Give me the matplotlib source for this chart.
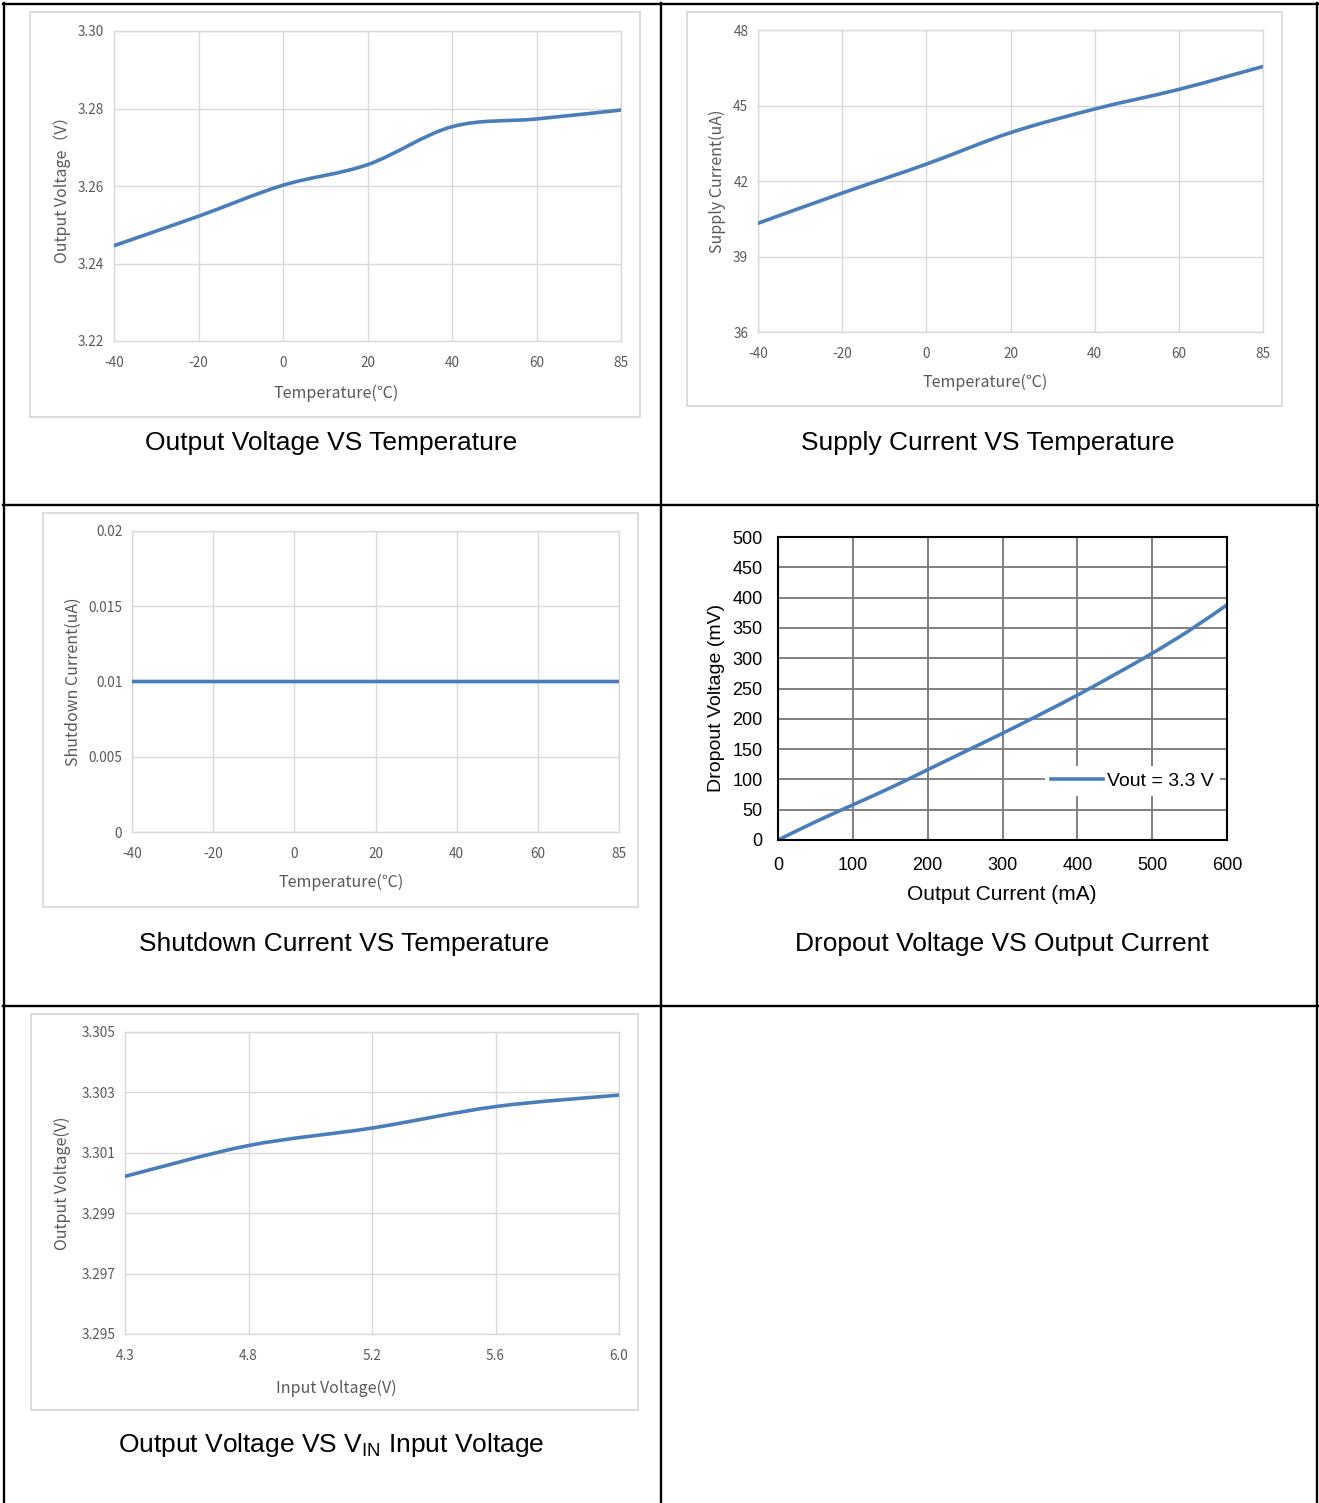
import numpy as np
import matplotlib
matplotlib.use("Agg")
import matplotlib.pyplot as plt
from matplotlib.path import Path
from matplotlib.patches import PathPatch, Rectangle
from matplotlib.lines import Line2D

plt.rcParams['font.family'] = ['Liberation Sans', 'Noto Sans CJK SC', 'DejaVu Sans']
plt.rcParams['mathtext.fontset'] = 'custom'
plt.rcParams['mathtext.rm'] = 'Liberation Sans'

W, H = 1319, 1503

# data
temp_labels = ['-40', '-20', '0', '20', '40', '60', '85']
vout_temp = [3.2446, 3.2522, 3.2602, 3.2655, 3.2753, 3.2773, 3.2796]
isupply_temp = [40.32, 41.52, 42.67, 43.92, 44.86, 45.64, 46.55]
ishdn_temp = [0.01, 0.01, 0.01, 0.01, 0.01, 0.01, 0.01]

iout_ma = [0, 50, 100, 150, 200, 250, 300, 350, 400, 450, 500, 550, 600]
vdrop_mv = [0, 30, 58, 86, 116, 146, 176, 207, 239, 273, 308, 346, 388]

vin_labels = ['4.3', '4.8', '5.2', '5.6', '6.0']
vout_vin = [3.30022, 3.30124, 3.30182, 3.30253, 3.30291]

LINE = '#4a7ebb'
GRID = '#d9d9d9'
TXT = '#595959'
EXCEL_FONT = ['Noto Sans CJK SC', 'DejaVu Sans']

fig = plt.figure(figsize=(W / 100, H / 100), dpi=100)


def px_axes(x0, y0, x1, y1):
    return fig.add_axes([x0 / W, 1 - y1 / H, (x1 - x0) / W, (y1 - y0) / H])


def smooth_path(xs, ys):
    # excel style smoothed line (catmull-rom -> bezier)
    pts = np.column_stack([xs, ys]).astype(float)
    n = len(pts)
    verts = [pts[0]]
    codes = [Path.MOVETO]
    for i in range(n - 1):
        p0 = pts[max(i - 1, 0)]
        p1 = pts[i]
        p2 = pts[i + 1]
        p3 = pts[min(i + 2, n - 1)]
        verts += [p1 + (p2 - p0) / 6, p2 - (p3 - p1) / 6, p2]
        codes += [Path.CURVE4] * 3
    return Path(verts, codes)


def place_labels(ax, box, xl, yl):
    x0, y0, x1, y1 = box
    ax.xaxis.set_label_coords((xl[0] - x0) / (x1 - x0), (y1 - xl[1]) / (y1 - y0))
    ax.xaxis.label.set_va('center')
    ax.yaxis.set_label_coords((yl[0] - x0) / (x1 - x0), (y1 - yl[1]) / (y1 - y0))
    ax.yaxis.label.set_va('center')


def excel_chart(box, frame, cats, vals, ylim, yticks, ylabels, xlabel, ylabel, xl, yl):
    fx0, fy0, fx1, fy1 = frame
    fig.add_artist(Rectangle((fx0 / W, 1 - fy1 / H), (fx1 - fx0) / W, (fy1 - fy0) / H,
                             transform=fig.transFigure, fill=False, ec=GRID, lw=1.3))
    ax = px_axes(*box)
    xs = np.arange(len(cats))
    ax.add_patch(PathPatch(smooth_path(xs, vals), fill=False, ec=LINE, lw=2.6,
                           capstyle='round', zorder=3))
    ax.set_xlim(0, len(cats) - 1)
    ax.set_ylim(*ylim)
    ax.set_xticks(xs)
    ax.set_xticklabels(cats)
    ax.set_yticks(yticks)
    ax.set_yticklabels(ylabels)
    ax.grid(True, color=GRID, lw=1)
    ax.set_axisbelow(True)
    for s in ax.spines.values():
        s.set_color(GRID)
        s.set_linewidth(1)
    ax.tick_params(length=0, colors=TXT, labelsize=9.8)
    ax.tick_params(axis='x', pad=10.5)
    ax.tick_params(axis='y', pad=7)
    for t in ax.get_xticklabels() + ax.get_yticklabels():
        t.set_family(EXCEL_FONT)
    ax.set_xlabel(xlabel, fontsize=11.5, color=TXT, family=EXCEL_FONT)
    ax.set_ylabel(ylabel, fontsize=11.5, color=TXT, family=EXCEL_FONT)
    place_labels(ax, box, xl, yl)
    return ax


# table borders
def hline(y, x0, x1):
    fig.add_artist(Line2D([x0 / W, x1 / W], [1 - y / H, 1 - y / H],
                          transform=fig.transFigure, color='black', lw=1.7))


def vline(x, y0, y1):
    fig.add_artist(Line2D([x / W, x / W], [1 - y0 / H, 1 - y1 / H],
                          transform=fig.transFigure, color='black', lw=1.7))


hline(4, 3, 1318)
hline(505, 3, 1318)
hline(1006, 3, 1318)
vline(4, 3, 1503)
vline(661, 3, 1503)
vline(1317, 3, 1503)

# Output voltage vs temperature
excel_chart((114, 31, 621, 341), (30, 12, 640, 417), temp_labels, vout_temp,
            (3.22, 3.30), [3.22, 3.24, 3.26, 3.28, 3.30],
            ['3.22', '3.24', '3.26', '3.28', '3.30'],
            'Temperature(℃)', 'Output Voltage（V）', (336, 393), (62, 186))

# Supply current vs temperature
excel_chart((758, 30, 1263, 332), (687, 12, 1282, 406), temp_labels, isupply_temp,
            (36, 48), [36, 39, 42, 45, 48], ['36', '39', '42', '45', '48'],
            'Temperature(℃)', 'Supply Current(uA)', (985, 382), (717, 181))

# Shutdown current vs temperature
excel_chart((132, 531, 619, 832), (43, 513, 638, 907), temp_labels, ishdn_temp,
            (0, 0.02), [0, 0.005, 0.01, 0.015, 0.02],
            ['0', '0.005', '0.01', '0.015', '0.02'],
            'Temperature(℃)', 'Shutdown Current(uA)', (341, 882), (73, 682))

# Output voltage vs input voltage
excel_chart((125, 1032, 619, 1334), (31, 1014, 638, 1410), vin_labels, vout_vin,
            (3.295, 3.305), [3.295, 3.297, 3.299, 3.301, 3.303, 3.305],
            ['3.295', '3.297', '3.299', '3.301', '3.303', '3.305'],
            'Input Voltage(V)', 'Output Voltage(V)', (336, 1388), (62, 1183))

# Dropout voltage vs output current
box4 = (778, 537, 1227, 840)
ax4 = px_axes(*box4)
ax4.add_patch(PathPatch(smooth_path(iout_ma, vdrop_mv), fill=False, ec=LINE, lw=2.6, zorder=3))
ax4.set_xlim(0, 600)
ax4.set_ylim(0, 500)
ax4.set_xticks(np.arange(0, 601, 100))
ax4.set_yticks(np.arange(0, 501, 50))
ax4.grid(True, color='#808080', lw=1.4)
ax4.set_axisbelow(True)
for s in ax4.spines.values():
    s.set_color('black')
    s.set_linewidth(1.5)
    s.set_zorder(4)
ax4.tick_params(length=0, colors='black', labelsize=13)
ax4.tick_params(axis='x', pad=12)
ax4.tick_params(axis='y', pad=11)
ax4.set_xlabel('Output Current (mA)', fontsize=15)
ax4.set_ylabel('Dropout Voltage (mV)', fontsize=14)
place_labels(ax4, box4, (1002, 894), (716, 698))
handle = Line2D([], [], color=LINE, lw=2.6)
leg = ax4.legend([handle], ['Vout = 3.3 V'], loc='center left',
                 bbox_to_anchor=((1045 - 778) / 449, (840 - 781) / 303),
                 borderaxespad=0, fontsize=14, handlelength=2.7, handletextpad=0.2,
                 borderpad=0.3, frameon=True, fancybox=False)
leg.get_frame().set_edgecolor('none')
leg.get_frame().set_facecolor('white')
leg.get_frame().set_alpha(1)

# captions
titles = [
    (331, 443, 'Output Voltage VS Temperature'),
    (988, 443, 'Supply Current VS Temperature'),
    (344, 944, 'Shutdown Current VS Temperature'),
    (1002, 944, 'Dropout Voltage VS Output Current'),
    (331, 1445, r'Output Voltage VS V$_{\mathrm{IN}}$ Input Voltage'),
]
for x, y, s in titles:
    fig.text(x / W, 1 - y / H, s, fontsize=19, ha='center', va='center')

fig.savefig('out.png', dpi=100)
